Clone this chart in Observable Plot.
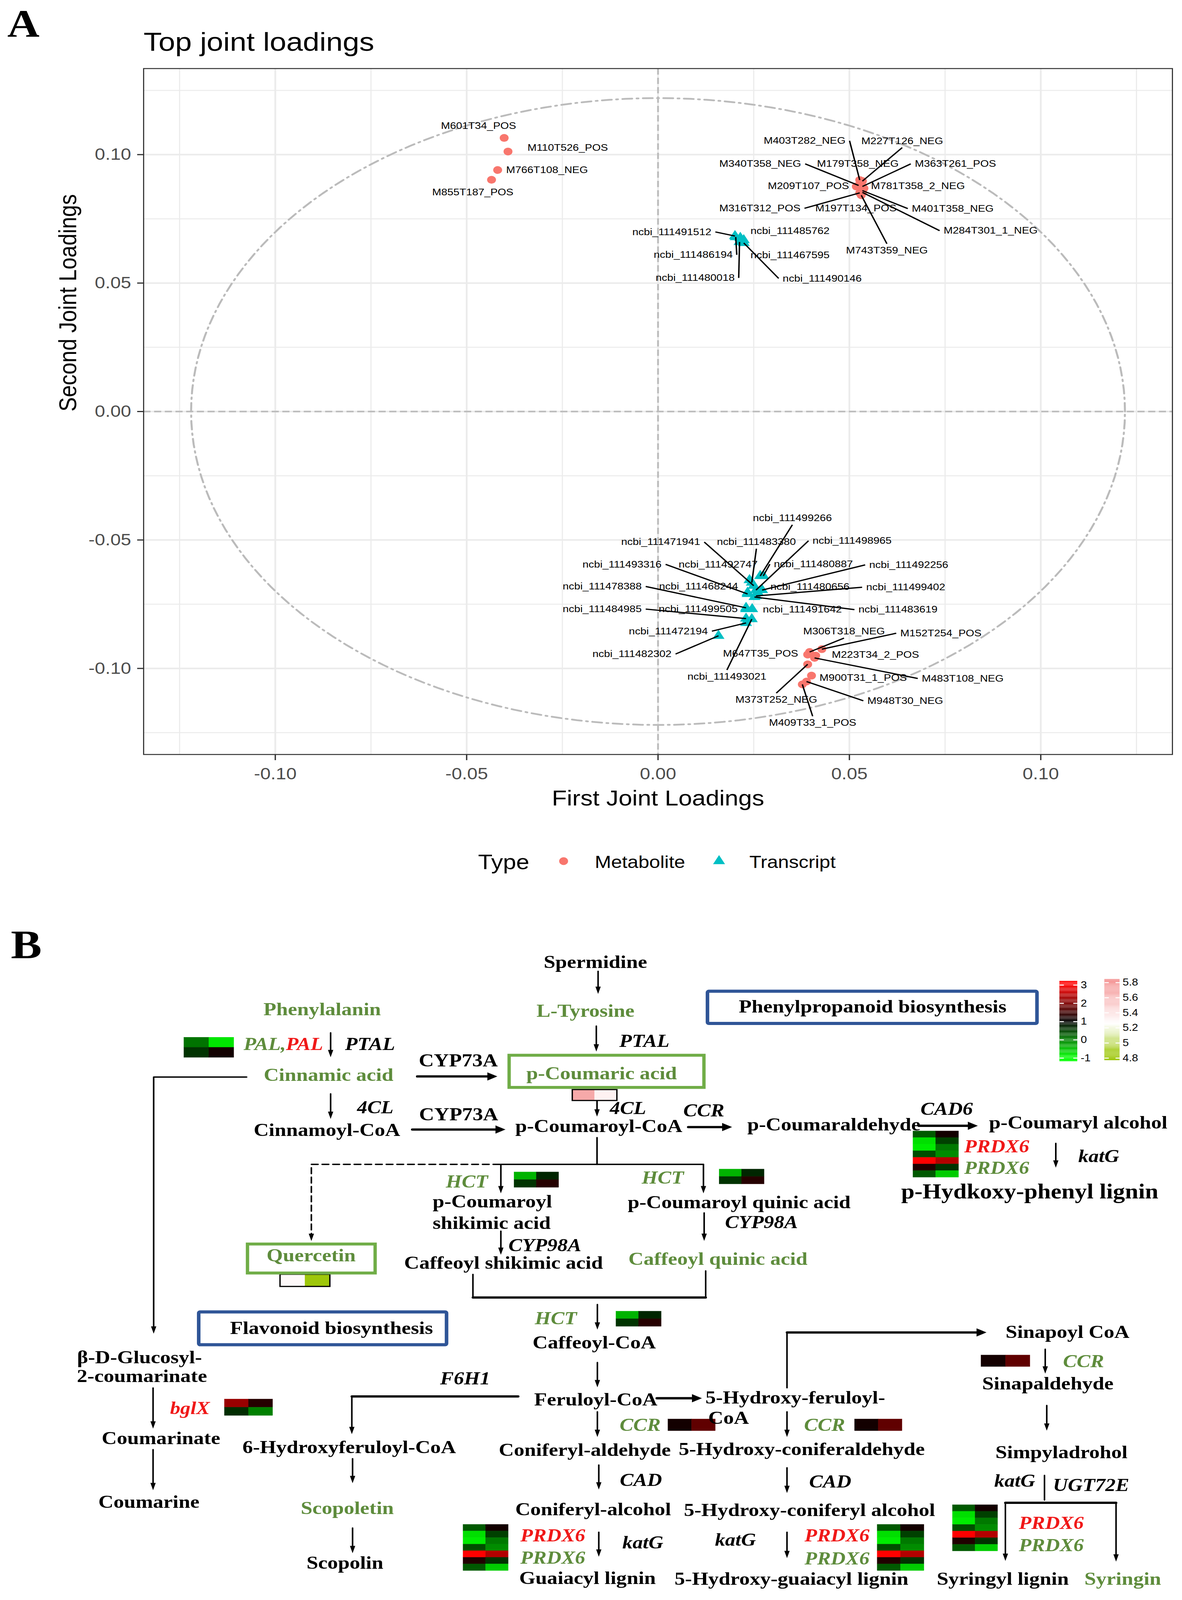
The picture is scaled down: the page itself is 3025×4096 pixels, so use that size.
<!DOCTYPE html>
<html><head><meta charset="utf-8">
<script src="https://cdn.jsdelivr.net/npm/d3@7"></script>
<script src="https://cdn.jsdelivr.net/npm/@observablehq/plot@0.6"></script>
<style>
html,body{margin:0;padding:0;background:#fff;}
#stage{position:absolute;left:0;top:0;width:2654px;height:4096px;transform:scaleX(1.13979);transform-origin:0 0;background:#fff;}
#stage svg{display:block;}
</style></head><body><div id="stage"></div>
<script>
// ================= PANEL A DATA =================
const metNames = ["M601T34_POS","M110T526_POS","M766T108_NEG","M855T187_POS",
"M403T282_NEG","M227T126_NEG","M340T358_NEG","M179T358_NEG","M363T261_POS","M209T107_POS","M781T358_2_NEG","M316T312_POS","M197T134_POS","M401T358_NEG","M284T301_1_NEG","M743T359_NEG",
"M306T318_NEG","M152T254_POS","M647T35_POS","M223T34_2_POS","M483T108_NEG","M373T252_NEG","M900T31_1_POS","M948T30_NEG","M409T33_1_POS"];
const metX = [-0.0402,-0.0392,-0.0419,-0.0435,
0.0527,0.0534,0.0524,0.0530,0.0534,0.0518,0.0538,0.0527,0.0533,0.0534,0.0534,0.0531,
0.0396,0.0428,0.0391,0.0412,0.0409,0.0391,0.0401,0.0388,0.0377];
const metY = [0.1065,0.1012,0.0940,0.0902,
0.0901,0.0897,0.0880,0.0887,0.0876,0.0876,0.0869,0.0851,0.0858,0.0860,0.0853,0.0842,
-0.0936,-0.0925,-0.0946,-0.0950,-0.0959,-0.0984,-0.1028,-0.1051,-0.1062];
const txNames = ["ncbi_111491512","ncbi_111485762","ncbi_111486194","ncbi_111467595","ncbi_111480018","ncbi_111490146",
"ncbi_111499266","ncbi_111471941","ncbi_111483380","ncbi_111498965","ncbi_111493316","ncbi_111492747","ncbi_111480887","ncbi_111492256","ncbi_111478388","ncbi_111468244","ncbi_111480656","ncbi_111499402","ncbi_111484985","ncbi_111499505","ncbi_111491642","ncbi_111483619","ncbi_111472194","ncbi_111482302","ncbi_111493021"];
const txX = [0.0201,0.0215,0.0203,0.0224,0.0213,0.0224,
0.0267,0.0250,0.0245,0.0256,0.0234,0.0239,0.0275,0.0272,0.0230,0.0234,0.0260,0.0256,0.0230,0.0230,0.0246,0.0252,0.0230,0.0158,0.0245];
const txY = [0.0683,0.0676,0.0679,0.0667,0.0660,0.0656,
-0.0640,-0.0678,-0.0666,-0.0695,-0.0710,-0.0656,-0.0640,-0.0695,-0.0764,-0.0705,-0.0703,-0.0718,-0.0806,-0.0769,-0.0769,-0.0722,-0.0823,-0.0873,-0.0808];
const types = ["Metabolite","Transcript"];
const xTicks = [-0.10,-0.05,0,0.05,0.10];
const yTicks = [-0.10,-0.05,0,0.05,0.10];
const xMinor = [-0.125,-0.075,-0.025,0.025,0.075,0.125];
const yMinor = [-0.125,-0.075,-0.025,0.025,0.075,0.125];
const circleRadius = 0.122;

// label layout (repelled label centres, in loading units)
const metLabX = [-0.0469,-0.0236,-0.0290,-0.0484,
0.0383,0.0638,0.0267,0.0522,0.0777,0.0393,0.0679,0.0266,0.0517,0.0770,0.0869,0.0598,
0.0486,0.0739,0.0268,0.0568,0.0796,0.0309,0.0536,0.0646,0.0404];
const metLabY = [0.1112,0.1027,0.0940,0.0854,
0.1054,0.1053,0.0964,0.0964,0.0964,0.0878,0.0878,0.0791,0.0791,0.0790,0.0704,0.0627,
-0.0856,-0.0863,-0.0942,-0.0946,-0.1039,-0.1122,-0.1037,-0.1126,-0.1212];
const txLabX = [0.0036,0.0345,0.0092,0.0345,0.0097,0.0429,
0.0351,0.0007,0.0257,0.0507,-0.0094,0.0157,0.0406,0.0655,-0.0146,0.0106,0.0397,0.0647,-0.0146,0.0105,0.0377,0.0627,0.0027,-0.0068,0.0180];
const txLabY = [0.0699,0.0703,0.0610,0.0608,0.0520,0.0518,
-0.0415,-0.0508,-0.0508,-0.0503,-0.0595,-0.0595,-0.0594,-0.0597,-0.0681,-0.0681,-0.0682,-0.0684,-0.0769,-0.0769,-0.0771,-0.0771,-0.0855,-0.0944,-0.1032];
const withSegment = new Set(["M403T282_NEG","M227T126_NEG","M340T358_NEG","M363T261_POS","M316T312_POS","M401T358_NEG","M284T301_1_NEG","M743T359_NEG","M306T318_NEG","M152T254_POS","M483T108_NEG","M373T252_NEG","M948T30_NEG","M409T33_1_POS",
"ncbi_111491512","ncbi_111486194","ncbi_111480018","ncbi_111490146","ncbi_111499266","ncbi_111471941","ncbi_111483380","ncbi_111498965","ncbi_111493316","ncbi_111480887","ncbi_111492256","ncbi_111478388","ncbi_111499402","ncbi_111484985","ncbi_111483619","ncbi_111472194","ncbi_111482302","ncbi_111493021"]);

// ================= PANEL A =================
const W = 2654, HA = 2300, HB = 1796;
const mlA = 322, mrA = 22, mtA = 175, mbA = HA - 1931;
const xDom = [-0.1344, 0.1344], yDom = [-0.1335, 0.1335];
const sansA = "Liberation Sans, Arial, Helvetica, sans-serif";
const labSize = 24.5;

const pts = [
  ...metNames.map((n,i)=>({name:n,type:types[0],x:metX[i],y:metY[i],lx:metLabX[i],ly:metLabY[i]})),
  ...txNames.map((n,i)=>({name:n,type:types[1],x:txX[i],y:txY[i],lx:txLabX[i],ly:txLabY[i]}))
];
const fx = d3.scaleLinear(xDom, [mlA, W - mrA]);
const fy = d3.scaleLinear(yDom, [HA - mbA, mtA]);
const cv = document.createElement("canvas").getContext("2d");
cv.font = `${labSize}px "Liberation Sans", Arial, sans-serif`;
const segs = pts.filter(d => withSegment.has(d.name)).map(d => {
  const X = fx(d.x), Y = fy(d.y), LX = fx(d.lx), LY = fy(d.ly);
  const w = cv.measureText(d.name).width;
  let ex, ey;
  if (X < LX - w/2 || X > LX + w/2) { ex = X < LX ? LX - w/2 - 9 : LX + w/2 + 9; ey = LY; }
  else { ex = LX; ey = Y < LY ? LY - 17 : LY + 17; }
  return {x1: d.x, y1: d.y, x2: fx.invert(ex), y2: fy.invert(ey)};
});
const ring = d3.range(0, 361, 2).map(a => ({x: circleRadius*Math.cos(a*Math.PI/180), y: circleRadius*Math.sin(a*Math.PI/180)}));
const fmt = d => d.toFixed(2);

const plotA = Plot.plot({
  width: W, height: HA,
  marginLeft: mlA, marginRight: mrA, marginTop: mtA, marginBottom: mbA,
  style: {background: "white", fontFamily: sansA},
  x: {domain: xDom, label: null},
  y: {domain: yDom, label: null},
  color: {domain: types, range: ["#F8766D", "#00BFC4"]},
  symbol: {domain: types, range: ["circle", "triangle"]},
  marks: [
    Plot.gridX(xMinor, {stroke: "#EBEBEB", strokeOpacity: 1, strokeWidth: 2.5}),
    Plot.gridY(yMinor, {stroke: "#EBEBEB", strokeOpacity: 1, strokeWidth: 2.5}),
    Plot.gridX(xTicks, {stroke: "#EBEBEB", strokeOpacity: 1, strokeWidth: 4}),
    Plot.gridY(yTicks, {stroke: "#EBEBEB", strokeOpacity: 1, strokeWidth: 4}),
    Plot.ruleX([0], {stroke: "#BBBBBB", strokeWidth: 4, strokeDasharray: "16,8"}),
    Plot.ruleY([0], {stroke: "#BBBBBB", strokeWidth: 4, strokeDasharray: "16,8"}),
    Plot.line(ring, {x: "x", y: "y", stroke: "#BBBBBB", strokeWidth: 4.5, strokeDasharray: "22,10,4,10"}),
    Plot.dot(pts, {x: "x", y: "y", fill: "type", symbol: "type", r: 10, stroke: null}),
    Plot.link(segs, {x1: "x1", y1: "y1", x2: "x2", y2: "y2", stroke: "black", strokeWidth: 3.2}),
    Plot.text(pts, {x: "lx", y: "ly", text: "name", fontSize: labSize, fill: "black", lineAnchor: "middle", fontFamily: sansA}),
    Plot.frame({stroke: "#333333", strokeWidth: 2.5}),
    Plot.axisX({ticks: xTicks, tickFormat: fmt, tickSize: 15, tickPadding: 19, fontSize: 42, color: "#4D4D4D", stroke: "#333333", strokeWidth: 3, label: null, fontFamily: sansA}),
    Plot.axisY({ticks: yTicks, tickFormat: fmt, tickSize: 14, tickPadding: 14, fontSize: 42, color: "#4D4D4D", stroke: "#333333", strokeWidth: 3, label: null, fontFamily: sansA}),
    Plot.text(["Top joint loadings"], {text: d => d, frameAnchor: "top-left", dy: -46, textAnchor: "start", lineAnchor: "bottom", fontSize: 67, fill: "black"}),
    Plot.text(["A"], {text: d => d, frameAnchor: "top-left", dx: -306, dy: -82, textAnchor: "start", lineAnchor: "bottom", fontSize: 100, fontWeight: "bold", fontFamily: "Liberation Serif, Times New Roman, serif", fill: "black"}),
    Plot.text(["First Joint Loadings"], {text: d => d, frameAnchor: "bottom", dy: 130, lineAnchor: "bottom", fontSize: 55, fill: "black"}),
    Plot.text(["Second Joint Loadings"], {text: d => d, frameAnchor: "left", dx: -169, rotate: -90, lineAnchor: "middle", fontSize: 55, fill: "black"}),
    // legend
    Plot.text(["Type"], {text: d => d, frameAnchor: "bottom-left", dx: 751, dy: 293, textAnchor: "start", lineAnchor: "bottom", fontSize: 53, fill: "black"}),
    Plot.dot([types[0]], {frameAnchor: "bottom-left", dx: 943, dy: 273, fill: d => d, symbol: d => d, r: 10}),
    Plot.text([types[0]], {text: d => d, frameAnchor: "bottom-left", dx: 1013, dy: 290, textAnchor: "start", lineAnchor: "bottom", fontSize: 44, fill: "black"}),
    Plot.dot([types[1]], {frameAnchor: "bottom-left", dx: 1292, dy: 273, fill: d => d, symbol: d => d, r: 10}),
    Plot.text([types[1]], {text: d => d, frameAnchor: "bottom-left", dx: 1360, dy: 290, textAnchor: "start", lineAnchor: "bottom", fontSize: 44, fill: "black"})
  ]
});

// ================= PANEL B DATA (pathway diagram, layout units) =================
const blackText = [
["Spermidine",1683.5,2737.7],["CYP73A",1295.5,3015.5],["CYP73A",1296.5,3169],["Cinnamoyl-CoA",924,3213],
["p-Coumaroyl-CoA",1693,3201.5],["p-Coumaraldehyde",2358,3197],["p-Coumaryl alcohol",3049,3192],
["p-Coumaroyl",1392,3414.7],["shikimic acid",1390,3476],["p-Coumaroyl quinic acid",2090,3416.6],
["Caffeoyl shikimic acid",1423.5,3588.6],["Caffeoyl-CoA",1680,3814],["β-D-Glucosyl-",394,3855.5],
["2-coumarinate",401,3909],["Coumarinate",454.7,4084],["Coumarine",420.6,4264.4],["Feruloyl-CoA",1684.5,3975],
["5-Hydroxy-feruloyl-",2248.7,3969.3],["CoA",2060,4027],["6-Hydroxyferuloyl-CoA",987,4110],
["Coniferyl-aldehyde",1653.5,4117.8],["5-Hydroxy-coniferaldehyde",2267,4115.8],["Coniferyl-alcohol",1677,4286],
["5-Hydroxy-coniferyl alcohol",2289,4288],["Scopolin",975,4436.6],["Guaiacyl lignin",1661,4480.2],
["5-Hydroxy-guaiacyl lignin",2238,4482],["Syringyl lignin",2835.6,4482],["Sinapoyl CoA",3018.6,3784.4],
["Sinapaldehyde",2963,3929.7],["Simpyladrohol",3001.7,4123.8],
["Phenylpropanoid biosynthesis",2467.5,2864],["Flavonoid biosynthesis",937,3772.5]
];
const bigText = [["p-Hydkoxy-phenyl lignin",2912,3389]];
const greenText = [["Phenylalanin",910.7,2870.9],["L-Tyrosine",1655.4,2875.5],["Cinnamic acid",928.6,3056.8],
["p-Coumaric acid",1701,3052],["Quercetin",879.5,3567],["Caffeoyl quinic acid",2030,3576.8],["Scopoletin",981.7,4282],["Syringin",3175,4482]];
const geneBlack = [["PTAL",1046,2969.6],["PTAL",1822,2960.4],["4CL",1060.7,3148.7],["4CL",1775.4,3151],["CCR",1990,3157.8],
["CAD6",2677,3153],["katG",3107,3286.4],["CYP98A",2153,3474],["CYP98A",1540.5,3539],["F6H1",1315,3915],["CAD",1812,4203],
["CAD",2347.5,4207],["katG",2869.5,4205],["UGT72E",3085.5,4216.8],["katG",1817.5,4379.2],["katG",2079.4,4371.3]];
const geneGreen = [["HCT",1320,3359],["HCT",1874,3347],["HCT",1571.5,3744.8],["CCR",1810,4047],["CCR",2331.5,4046.5],
["CCR",3064,3867.4],["PRDX6",2818.5,3320],["PRDX6",1563,4422.8],["PRDX6",2366.8,4424.8],["PRDX6",2972.8,4387]];
const geneRed = [["PRDX6",2818.5,3259],["PRDX6",1563,4359.4],["PRDX6",2366.8,4359.4],["PRDX6",2972.8,4323.8],["bglX",536.6,3999]];
const palGreen = [["PAL,",808,2969.6]];
const palRed = [["PAL",808,2969.6]];
const blueBoxes = [[2001,2804,2933,2895],[562,3711,1263,3804]];
const greenBoxes = [[1440,2985,1991,3076],[700,3519,1061,3601]];

// heatmap values (gene expression z-scores and metabolite levels)
const palVals = [[0.1,-0.8],[0.6,1.15]];
const hctVals = [[-0.4,0.7],[0.6,1.3]];
const bglxVals = [[2.2,1.3],[0.65,0.0]];
const ccrVals = [[1.15,1.75]];
const prdxVals = [[0.3,1.15],[-0.75,0.5],[-0.85,0.05],[0.4,-0.1],[3.0,2.4],[1.25,0.6],[0.3,-0.6]];
const coumaricVals = [[5.72,5.32]];
const quercetinVals = [[5.28,4.82]];
const heatmaps = [
 {box:[520,2934,661,2991], v:palVals},
 {box:[1454,3315,1580,3358.5], v:hctVals},
 {box:[2034,3307,2161,3349], v:hctVals},
 {box:[1742,3709,1870,3751.6], v:hctVals},
 {box:[634.6,3957.4,771,4003.8], v:bglxVals},
 {box:[1889,4014,2023,4047], v:ccrVals},
 {box:[2417,4014,2551,4047], v:ccrVals},
 {box:[2774.7,3833,2913,3865.4], v:ccrVals},
 {box:[2582,3199,2711,3330], v:prdxVals},
 {box:[1309.6,4311.9,1437.4,4442.6], v:prdxVals},
 {box:[2481,4311.9,2613,4442.6], v:prdxVals},
 {box:[2694,4256.4,2821.5,4387], v:prdxVals},
 {box:[1618.6,3082,1744.8,3113], v:coumaricVals, border:true},
 {box:[792,3604.5,933,3639], v:quercetinVals, border:true}
];
const geneLegendTicks = [3,2,1,0,-1];
const geneLegendLabels = ["3","2","1","0","-1"];
const metLegendTicks = [5.8,5.6,5.4,5.2,5,4.8];
const metLegendLabels = ["5.8","5.6","5.4","5.2","5","4.8"];

const arrows = [
 {p:[[1691,2747],[1691,2811]],h:1},
 {p:[[1686,2902],[1686,2974]],h:1},
 {p:[[934.5,2921],[934.5,2990]],h:1},
 {p:[[1179.5,3044.4],[1406,3044.4]],h:1,k:1},
 {p:[[697,3046],[434,3046],[434,3772]],h:1},
 {p:[[1688,3113],[1688,3158]],h:1},
 {p:[[934.5,3093.6],[934.5,3164.7]],h:1},
 {p:[[1165.4,3194.6],[1429,3194.6]],h:1,k:1},
 {p:[[1946,3187.7],[2070,3187.7]],h:1,k:1},
 {p:[[2598,3184],[2765,3184]],h:1,k:1},
 {p:[[2985.6,3233.6],[2985.6,3302.5]],h:1},
 {p:[[1688,3217.5],[1688,3293]]},
 {p:[[1413,3293],[880,3293],[880,3510]],h:1,d:1},
 {p:[[1416,3293],[1416,3375]],h:1},
 {p:[[1416,3293],[1989,3293]]},
 {p:[[1989,3293],[1989,3375]],h:1},
 {p:[[1991,3430.5],[1991,3509.6]],h:1},
 {p:[[1416,3482],[1416,3549]],h:1},
 {p:[[1337,3604.5],[1337,3669.7]]},
 {p:[[1337,3669.7],[1995.3,3669.7]],k:1},
 {p:[[1995.3,3669.7],[1995.3,3594.6]]},
 {p:[[1689,3689.5],[1689,3760.6]],h:1},
 {p:[[1689,3853.6],[1689,3923.8]],h:1},
 {p:[[432.3,3925.7],[432.3,4040.6]],h:1},
 {p:[[432.3,4100],[432.3,4214.9]],h:1},
 {p:[[1465,3949.5],[994.5,3949.5]],k:1},
 {p:[[994.5,3949.5],[994.5,4056.4]],h:1},
 {p:[[1857,3954.7],[1984.7,3954.7]],h:1,k:1},
 {p:[[2225.3,3925],[2225.3,3768.6]]},
 {p:[[2225.3,3768.6],[2789.6,3768.6]],h:1,k:1},
 {p:[[2955.7,3816],[2955.7,3885]],h:1},
 {p:[[2960,3975],[2960,4046.5]],h:1},
 {p:[[1689,3993],[1689,4064.4]],h:1},
 {p:[[2225.3,3993],[2225.3,4064.4]],h:1},
 {p:[[1693,4143.6],[1693,4212.9]],h:1},
 {p:[[2225.3,4151.5],[2225.3,4222.8]],h:1},
 {p:[[2953.6,4173],[2953.6,4242.6]]},
 {p:[[2843,4250.5],[2843,4414.9]],h:1},
 {p:[[2843,4250.5],[3156,4250.5]],k:1},
 {p:[[3156,4250.5],[3156,4416.8]],h:1},
 {p:[[996.6,4125.7],[996.6,4195]],h:1},
 {p:[[996.6,4321.8],[996.6,4393]],h:1},
 {p:[[1693,4333.7],[1693,4403]],h:1},
 {p:[[2225.3,4333.7],[2225.3,4407]],h:1}
];

// ================= PANEL B =================
const BX = [0, W / 0.79386], BY = [HA / 0.905, 4096 / 0.905];
const KX = 0.79386, KY = 0.905;
const serif = "Liberation Serif, Times New Roman, serif";
const sansB = "Liberation Sans, Arial, sans-serif";
const greenC = "#5E8C3C", redC = "#F01818";

const shafts = [], heads = [];
arrows.forEach((a, i) => {
  const p = a.p.map(q => q.slice());
  if (a.h) {
    const n = p.length - 1;
    const dxs = (p[n][0] - p[n-1][0]) * KX, dys = (p[n][1] - p[n-1][1]) * KY;
    const len = Math.hypot(dxs, dys);
    const big = Math.abs(dxs) > Math.abs(dys);
    heads.push({x: p[n][0], y: p[n][1], rot: Math.atan2(dxs, -dys) * 180 / Math.PI, big});
    const back = big ? 15 : 12;
    p[n] = [p[n][0] - dxs/len*back/KX, p[n][1] - dys/len*back/KY];
  }
  p.forEach(q => shafts.push({x: q[0], y: q[1], id: i, k: !!a.k, d: !!a.d}));
});
const thinHead = {draw(c, size){ const r = Math.sqrt(size/Math.PI); c.moveTo(0,0); c.lineTo(-0.7*r, 2.2*r); c.lineTo(0.7*r, 2.2*r); c.closePath(); }};
const bigHead = {draw(c, size){ const r = Math.sqrt(size/Math.PI); c.moveTo(0,0); c.lineTo(-0.75*r, 1.6*r); c.lineTo(0.75*r, 1.6*r); c.closePath(); }};

const cells = heatmaps.flatMap(h => {
  const R = h.v.length, C = h.v[0].length;
  const cw = (h.box[2]-h.box[0]) / C, ch = (h.box[3]-h.box[1]) / R;
  return h.v.flatMap((row, i) => row.map((val, j) => ({x1: h.box[0]+j*cw, x2: h.box[0]+(j+1)*cw, y1: h.box[1]+i*ch, y2: h.box[1]+(i+1)*ch, v: val})));
});
const borders = heatmaps.filter(h => h.border).map(h => ({x1: h.box[0], y1: h.box[1], x2: h.box[2], y2: h.box[3]}));

// colour keys
const gBar = [2996.4, 3047], mBar = [3123.5, 3166.6];
const gy = v => 2786 + (3 - v) * 51.65;
const my = v => 2779 + (5.8 - v) * 213.6;
const geneRamp = d3.range(-1.18, 3.22, 0.02).map(v => ({x1: gBar[0], x2: gBar[1], y1: gy(v + 0.021), y2: gy(v), v: Math.max(-1, Math.min(3, v))}));
const metRamp = d3.range(4.77, 5.84, 0.005).map(v => ({x1: mBar[0], x2: mBar[1], y1: my(v + 0.0055), y2: my(v), v: Math.max(4.8, Math.min(5.8, v))}));
const keyTicks = [
  ...geneLegendTicks.flatMap(v => [{x1: gBar[0], x2: gBar[0]+12, y: gy(v)}, {x1: gBar[1]-12, x2: gBar[1], y: gy(v)}]),
  ...metLegendTicks.flatMap(v => [{x1: mBar[0], x2: mBar[0]+12, y: my(v)}, {x1: mBar[1]-12, x2: mBar[1], y: my(v)}])
];
const keyLabels = [
  ...geneLegendTicks.map((v, i) => ({t: geneLegendLabels[i], x: gBar[1] + 9, y: gy(v)})),
  ...metLegendTicks.map((v, i) => ({t: metLegendLabels[i], x: mBar[1] + 8, y: my(v)}))
];

const T = arr => arr.map(([t, x, y]) => ({t, x, y}));
const txt = (arr, o) => Plot.text(T(arr), {x: "x", y: "y", text: "t", lineAnchor: "bottom", fontFamily: serif, fontWeight: "bold", ...o});

const plotB = Plot.plot({
  width: W, height: HB, margin: 0,
  style: {background: "white"},
  x: {domain: BX, axis: null},
  y: {domain: [BY[1], BY[0]], axis: null},
  color: {type: "linear", domain: [-1, 1, 3, 4.8, 5.25, 5.8], range: ["#00FF00", "#000000", "#FF0000", "#99C400", "#FFFFFF", "#F59A9A"]},
  marks: [
    Plot.rect(cells, {x1: "x1", x2: "x2", y1: "y1", y2: "y2", fill: "v", stroke: "v", strokeWidth: 0.6}),
    Plot.rect(borders, {x1: "x1", x2: "x2", y1: "y1", y2: "y2", fill: "none", stroke: "black", strokeWidth: 3}),
    Plot.rect(blueBoxes.map(b => ({x1: b[0], y1: b[1], x2: b[2], y2: b[3]})), {x1: "x1", x2: "x2", y1: "y1", y2: "y2", fill: "none", stroke: "#2F5597", strokeWidth: 8, rx: 3}),
    Plot.rect(greenBoxes.map(b => ({x1: b[0], y1: b[1], x2: b[2], y2: b[3]})), {x1: "x1", x2: "x2", y1: "y1", y2: "y2", fill: "none", stroke: "#70AD47", strokeWidth: 7.5}),
    Plot.line(shafts.filter(d => !d.k && !d.d), {x: "x", y: "y", z: "id", stroke: "black", strokeWidth: 3.5}),
    Plot.line(shafts.filter(d => d.k), {x: "x", y: "y", z: "id", stroke: "black", strokeWidth: 5.8}),
    Plot.line(shafts.filter(d => d.d), {x: "x", y: "y", z: "id", stroke: "black", strokeWidth: 3.5, strokeDasharray: "15,9"}),
    Plot.dot(heads.filter(d => !d.big), {x: "x", y: "y", rotate: "rot", symbol: thinHead, r: 8.5, fill: "black", stroke: null}),
    Plot.dot(heads.filter(d => d.big), {x: "x", y: "y", rotate: "rot", symbol: bigHead, r: 14, fill: "black", stroke: null}),
    Plot.rect(geneRamp, {x1: "x1", x2: "x2", y1: "y1", y2: "y2", fill: "v"}),
    Plot.rect(metRamp, {x1: "x1", x2: "x2", y1: "y1", y2: "y2", fill: "v"}),
    Plot.link(keyTicks, {x1: "x1", x2: "x2", y1: "y", y2: "y", stroke: "white", strokeWidth: 2.5}),
    Plot.text(keyLabels, {x: "x", y: "y", text: "t", textAnchor: "start", lineAnchor: "middle", fontSize: 25, fontFamily: sansB, fill: "black"}),
    txt(blackText, {fontSize: 47, fill: "black"}),
    txt(bigText, {fontSize: 54, fill: "black"}),
    txt(greenText, {fontSize: 47, fill: greenC}),
    txt(geneBlack, {fontSize: 46, fill: "black", fontStyle: "italic"}),
    txt(geneGreen, {fontSize: 46, fill: greenC, fontStyle: "italic"}),
    txt(geneRed, {fontSize: 46, fill: redC, fontStyle: "italic"}),
    txt(palGreen, {fontSize: 46, fill: greenC, fontStyle: "italic", textAnchor: "end"}),
    txt(palRed, {fontSize: 46, fill: redC, fontStyle: "italic", textAnchor: "start"}),
    txt([["B", 30, 2710]], {fontSize: 104, fill: "black", textAnchor: "start"})
  ]
});

const stage = document.getElementById("stage");
stage.appendChild(plotA);
stage.appendChild(plotB);
</script></body></html>
